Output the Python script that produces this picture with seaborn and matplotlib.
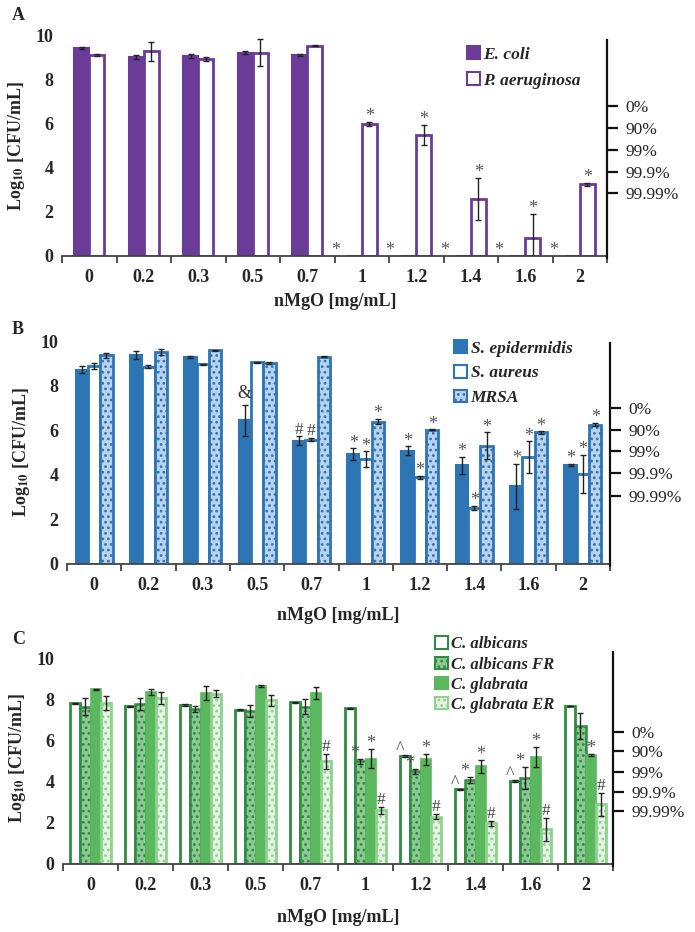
import numpy as np
import pandas as pd
import matplotlib
matplotlib.use("Agg")
import matplotlib.pyplot as plt
import seaborn as sns
from matplotlib.patches import Patch

sns.set_style("white")
plt.rcParams['font.family'] = ['Liberation Serif', 'DejaVu Serif']
plt.rcParams['mathtext.fontset'] = 'stix'
plt.rcParams['hatch.linewidth'] = 1.2

conc = ["0", "0.2", "0.3", "0.5", "0.7", "1", "1.2", "1.4", "1.6", "2"]

# Panel A
a_strains = ["E. coli", "P. aeruginosa"]
a_ecoli = [9.45, 9.05, 9.1, 9.25, 9.15, 0, 0, 0, 0, 0]
a_ecoli_err = [0.03, 0.08, 0.08, 0.05, 0.05, 0, 0, 0, 0, 0]
a_paer = [9.15, 9.3, 8.95, 9.25, 9.55, 6.0, 5.5, 2.6, 0.82, 3.27]
a_paer_err = [0.05, 0.45, 0.1, 0.6, 0.02, 0.1, 0.45, 0.95, 1.1, 0.07]
a_ann_ecoli = ["", "", "", "", "", "*", "*", "*", "*", "*"]
a_ann_paer = ["", "", "", "", "", "*", "*", "*", "*", "*"]
a_right_pos = [6.8, 5.82, 4.82, 3.82, 2.86]

# Panel B
b_strains = ["S. epidermidis", "S. aureus", "MRSA"]
b_sepi = [8.72, 9.38, 9.28, 6.45, 5.52, 4.93, 5.08, 4.42, 3.48, 4.45]
b_sepi_err = [0.15, 0.18, 0.05, 0.7, 0.2, 0.25, 0.2, 0.38, 1.0, 0.05]
b_saur = [8.88, 8.85, 8.95, 9.05, 5.58, 4.7, 3.88, 2.52, 4.8, 4.05]
b_saur_err = [0.15, 0.08, 0.02, 0.03, 0.08, 0.35, 0.08, 0.1, 0.7, 0.85]
b_mrsa = [9.35, 9.5, 9.58, 9.0, 9.3, 6.38, 6.02, 5.3, 5.9, 6.25]
b_mrsa_err = [0.12, 0.15, 0.03, 0.05, 0.03, 0.12, 0.02, 0.6, 0.05, 0.08]
b_ann_sepi = ["", "", "", "&", "#", "*", "*", "*", "*", "*"]
b_ann_saur = ["", "", "", "", "#", "*", "*", "*", "*", "*"]
b_ann_mrsa = ["", "", "", "", "", "*", "*", "*", "*", "*"]
b_right_pos = [7.0, 6.02, 5.07, 4.08, 3.05]

# Panel C
c_strains = ["C. albicans", "C. albicans FR", "C. glabrata", "C. glabrata ER"]
c_alb = [7.81, 7.66, 7.72, 7.49, 7.85, 7.57, 5.25, 3.63, 4.05, 7.68]
c_alb_err = [0.03, 0.03, 0.03, 0.02, 0.03, 0.02, 0.03, 0.03, 0.05, 0.02]
c_fr = [7.65, 7.78, 7.55, 7.42, 7.65, 4.98, 4.5, 4.08, 4.17, 6.7]
c_fr_err = [0.4, 0.3, 0.15, 0.3, 0.38, 0.12, 0.12, 0.15, 0.55, 0.62]
c_glab = [8.48, 8.35, 8.32, 8.65, 8.32, 5.12, 5.08, 4.75, 5.2, 5.3]
c_glab_err = [0.03, 0.15, 0.35, 0.04, 0.3, 0.45, 0.25, 0.32, 0.5, 0.06]
c_er = [7.82, 8.08, 8.28, 7.95, 4.98, 2.6, 2.3, 1.98, 1.68, 2.9]
c_er_err = [0.35, 0.3, 0.15, 0.28, 0.38, 0.15, 0.12, 0.12, 0.55, 0.55]
c_ann_alb = ["", "", "", "", "", "", "^", "^", "^", ""]
c_ann_fr = ["", "", "", "", "", "*", "*", "*", "*", ""]
c_ann_glab = ["", "", "", "", "", "*", "*", "*", "*", "*"]
c_ann_er = ["", "", "", "", "#", "#", "#", "#", "#", "#"]
c_right_pos = [6.4, 5.48, 4.47, 3.5, 2.57]

right_labels = ["0%", "90%", "99%", "99.9%", "99.99%"]

PURPLE = "#6a3c98"
BLUE = "#2e75b6"
DKGREEN = "#2f8c42"
GREEN = "#5cb85f"
LTGREEN = "#8fd18f"
ANN = "#555555"

W, H = 695, 932
fig = plt.figure(figsize=(W / 100, H / 100), dpi=100)


def axes_px(left, right, y0, ytop):
    return fig.add_axes([left / W, 1 - y0 / H, (right - left) / W, (y0 - ytop) / H])


def make_panel(ax, strains, vals, errs, anns, styles, width, ylim_top, right_pos,
               right_top, legend_loc, ann_offsets, leg_size, leg_spacing):
    rows = []
    for s, v in zip(strains, vals):
        for c, val in zip(conc, v):
            rows.append({"conc": c, "value": val, "strain": s})
    df = pd.DataFrame(rows)
    sns.barplot(data=df, x="conc", y="value", hue="strain", order=conc,
                hue_order=strains, errorbar=None, width=width, gap=0.0,
                dodge=True, ax=ax, legend=False, palette=[st["fc"] for st in styles])
    for cont, st, err, ann, off in zip(ax.containers, styles, errs, anns, ann_offsets):
        xs, ys = [], []
        for p in cont.patches:
            p.set_facecolor(st["fc"])
            p.set_edgecolor(st["ec"])
            p.set_linewidth(st["lw"])
            if st.get("hatch"):
                p.set_hatch(st["hatch"])
            xs.append(p.get_x() + p.get_width() / 2)
            ys.append(p.get_height())
        xs = np.array(xs)
        ys = np.array(ys)
        e = np.array(err)
        m = e > 0
        ax.errorbar(xs[m], ys[m], yerr=e[m], fmt="none", ecolor="#222222",
                    elinewidth=1.0, capsize=2.5, capthick=1.0, zorder=5)
        for x, y, ee, t in zip(xs, ys, e, ann):
            if t:
                if t == "&":
                    ax.text(x, y + ee + 0.1, t, ha="center", va="bottom",
                            fontsize=13, color="#333333")
                elif t == "#":
                    ax.text(x + off, y + ee - 0.05, t, ha="center", va="bottom",
                            fontsize=12.5, color="#444444")
                else:
                    ax.text(x + off, y + ee - 0.15, t, ha="center", va="bottom",
                            fontsize=13, color=ANN)
    ax.set_xlim(-0.5, 9.5)
    ax.set_ylim(0, ylim_top)
    ax.set_yticks([0, 2, 4, 6, 8, 10])
    ax.set_yticklabels(["0", "2", "4", "6", "8", "10"], fontsize=13, fontweight="bold")
    ax.set_xticks(range(10))
    ax.set_xticklabels(conc, fontsize=13, fontweight="bold")
    ax.set_xticks(np.arange(-0.5, 10, 1), minor=True)
    ax.tick_params(axis="x", which="major", length=0, pad=9)
    ax.tick_params(axis="x", which="minor", length=5, width=1.2, direction="out",
                   color="#333333", bottom=True)
    ax.tick_params(axis="y", length=0, pad=6)
    ax.set_xlabel("")
    ax.set_ylabel(r"Log$_{\mathbf{10}}$ [CFU/mL]", fontsize=13, fontweight="bold",
                  labelpad=6)
    for s in ["top", "right", "left"]:
        ax.spines[s].set_visible(False)
    ax.spines["bottom"].set_color("#444444")
    ax.spines["bottom"].set_linewidth(1.3)
    ax2 = ax.twinx()
    ax2.set_ylim(0, ylim_top)
    ax2.set_yticks(right_pos)
    ax2.set_yticklabels(right_labels, fontsize=12.5)
    ax2.tick_params(axis="y", length=8, width=1.6, direction="out", pad=5,
                    color="#111111")
    for s in ["top", "left", "bottom"]:
        ax2.spines[s].set_visible(False)
    ax2.spines["right"].set_visible(True)
    ax2.spines["right"].set_linewidth(1.6)
    ax2.spines["right"].set_color("#111111")
    ax2.spines["right"].set_bounds(-0.1, right_top)
    handles = []
    for s, st in zip(strains, styles):
        handles.append(Patch(facecolor=st["fc"], edgecolor=st["ec"],
                             linewidth=1.5, hatch=st.get("hatch"), label=s))
    ax2.legend(handles=handles, loc="upper left", bbox_to_anchor=legend_loc,
               frameon=False, handlelength=0.75, handleheight=0.75,
               handletextpad=0.2, labelspacing=leg_spacing, borderaxespad=0,
               prop={"family": "Liberation Serif", "weight": "bold",
                     "style": "italic", "size": leg_size})
    return ax2


# Panel A
axA = axes_px(62, 607, 256, 36)
make_panel(axA, a_strains, [a_ecoli, a_paer], [a_ecoli_err, a_paer_err],
           [a_ann_ecoli, a_ann_paer],
           [dict(fc=PURPLE, ec=PURPLE, lw=1.5), dict(fc="white", ec=PURPLE, lw=2.0)],
           0.55, 10, a_right_pos, 9.8, (0.73, 0.985), [-0.35, 0.0], 12.5, 0.55)
# Panel B
axB = axes_px(67, 610, 564, 341)
make_panel(axB, b_strains, [b_sepi, b_saur, b_mrsa], [b_sepi_err, b_saur_err, b_mrsa_err],
           [b_ann_sepi, b_ann_saur, b_ann_mrsa],
           [dict(fc=BLUE, ec=BLUE, lw=1.5), dict(fc="white", ec=BLUE, lw=2.0),
            dict(fc="#b9d3ee", ec=BLUE, lw=2.0, hatch="...")],
           0.68, 10, b_right_pos, 9.9, (0.70, 1.035), [0.0, 0.0, 0.0], 12.5, 0.48)
# Panel C
axC = axes_px(63, 613, 864, 652)
make_panel(axC, c_strains, [c_alb, c_fr, c_glab, c_er],
           [c_alb_err, c_fr_err, c_glab_err, c_er_err],
           [c_ann_alb, c_ann_fr, c_ann_glab, c_ann_er],
           [dict(fc="white", ec=DKGREEN, lw=2.0),
            dict(fc="#8cc893", ec=DKGREEN, lw=1.8, hatch="..."),
            dict(fc=GREEN, ec=GREEN, lw=1.2),
            dict(fc="#e4f4e2", ec=LTGREEN, lw=2.0, hatch="...")],
           0.75, 10.3, c_right_pos, 10.3, (0.665, 1.105), [-0.1, -0.1, 0.0, 0.0],
           12, 0.25)

fig.text(335 / W, 1 - 302 / H, "nMgO [mg/mL]", ha="center", va="center",
         fontsize=13, fontweight="bold")
fig.text(338 / W, 1 - 615 / H, "nMgO [mg/mL]", ha="center", va="center",
         fontsize=13, fontweight="bold")
fig.text(338 / W, 1 - 917 / H, "nMgO [mg/mL]", ha="center", va="center",
         fontsize=13, fontweight="bold")
for lab, y in [("A", 15), ("B", 330), ("C", 640)]:
    fig.text(12 / W, 1 - y / H, lab, ha="left", va="center", fontsize=13,
             fontweight="bold")

fig.savefig("out.png", dpi=100)
